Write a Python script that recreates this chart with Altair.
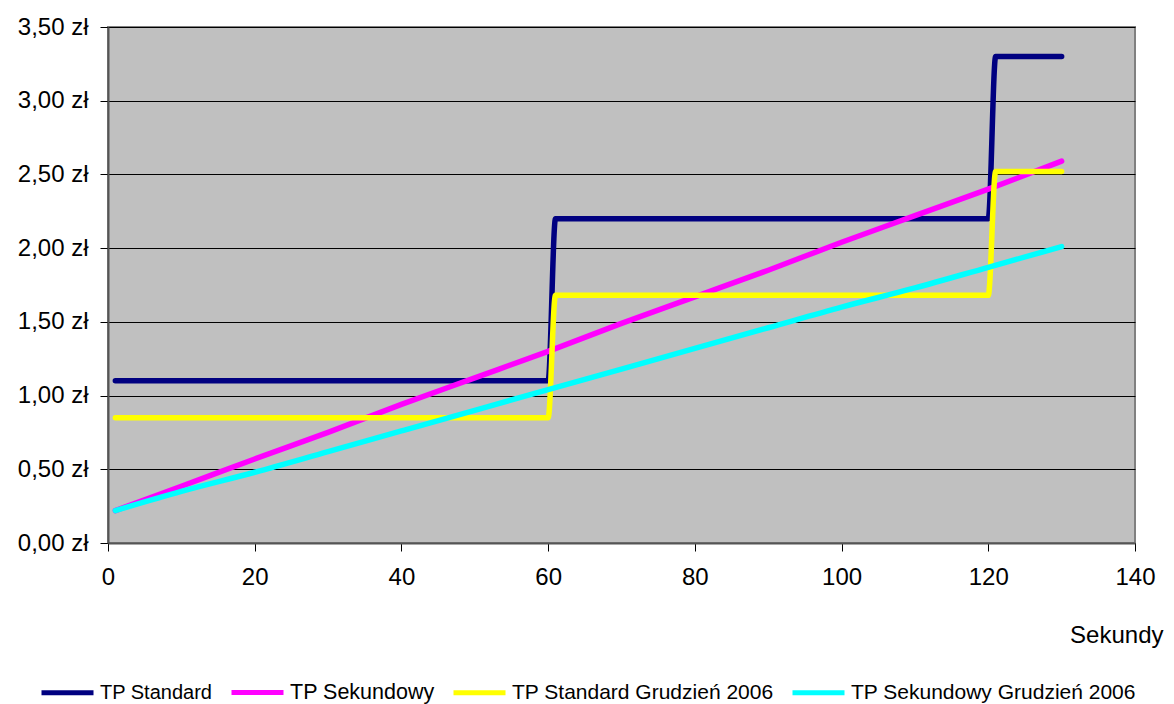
import altair as alt
import pandas as pd

series_names = ["TP Standard", "TP Sekundowy", "TP Standard Grudzień 2006", "TP Sekundowy Grudzień 2006"]
series_colors = ["#000080", "#FF00FF", "#FFFF00", "#00FFFF"]

std_x = [1, 60, 61, 120, 121, 130]
std_y = [1.10, 1.10, 2.20, 2.20, 3.30, 3.30]

sek_x = [1, 10, 20, 30, 40, 50, 60, 70, 80, 90, 100, 110, 120, 130]
sek_y = [0.22, 0.385, 0.57, 0.75, 0.94, 1.12, 1.30, 1.49, 1.67, 1.85, 2.04, 2.22, 2.40, 2.59]

std06_x = [1, 60, 61, 120, 121, 130]
std06_y = [0.85, 0.85, 1.68, 1.68, 2.52, 2.52]

sek06_x = [1, 10, 20, 30, 40, 50, 60, 70, 80, 90, 100, 110, 120, 130]
sek06_y = [0.22, 0.35, 0.48, 0.62, 0.76, 0.90, 1.04, 1.18, 1.32, 1.46, 1.60, 1.73, 1.87, 2.01]

rows = []
for name, xs, ys in zip(series_names,
                        [std_x, sek_x, std06_x, sek06_x],
                        [std_y, sek_y, std06_y, sek06_y]):
    for i, (a, b) in enumerate(zip(xs, ys)):
        rows.append({"seria": name, "s": a, "zl": b, "i": i})
df = pd.DataFrame(rows)

font = "Liberation Sans"

chart = alt.Chart(df).mark_line(
    strokeWidth=5.5, strokeCap="round", strokeJoin="round", interpolate="monotone"
).encode(
    x=alt.X("s:Q", scale=alt.Scale(domain=[0, 140], nice=False, zero=False),
            axis=alt.Axis(values=[0, 20, 40, 60, 80, 100, 120, 140], title="Sekundy",
                          grid=False, tickSize=8, labelPadding=14, labelFontSize=24,
                          labelFont=font, labelColor="#000", tickColor="#000",
                          domainColor="#555555", domainWidth=2, titleFont=font,
                          titleFontSize=24, titleFontWeight="normal", titleColor="#000",
                          titleAnchor="end", titleAlign="right", titleX=1055, titleY=99,
                          titleBaseline="alphabetic", labelFlush=False)),
    y=alt.Y("zl:Q", scale=alt.Scale(domain=[0, 3.5], nice=False),
            axis=alt.Axis(values=[0, 0.5, 1, 1.5, 2, 2.5, 3, 3.5], title=None,
                          labelExpr="replace(format(datum.value, '.2f'), '.', ',') + ' zł'",
                          grid=True, gridColor="#000", gridWidth=1, tickSize=8,
                          labelPadding=12, labelFontSize=24, labelFont=font,
                          labelColor="#000", tickColor="#000", domainColor="#555555",
                          domainWidth=2, labelFlush=False)),
    color=alt.Color("seria:N", sort=series_names,
                    scale=alt.Scale(domain=series_names, range=series_colors),
                    legend=alt.Legend(title=None, orient="none", direction="horizontal",
                                      legendX=-69, legendY=637, symbolType="stroke",
                                      symbolSize=2704, symbolStrokeWidth=5,
                                      labelFontSize=alt.ExprRef("datum.label == 'TP Sekundowy' ? 21.5 : (datum.label == 'TP Standard' ? 20 : 21)"),
                                      labelFont=font,
                                      labelColor="#000",
                                      labelLimit=400, labelOffset=4, columnPadding=8,
                                      padding=0, labelBaseline="middle")),
    detail="seria:N",
    order="i:Q",
).properties(
    width=1027, height=516,
    autosize=alt.AutoSizeParams(type="none"),
    padding={"left": 100, "top": 19, "right": 30, "bottom": 161},
).configure_view(
    fill="#C0C0C0", stroke="#808080", strokeWidth=2
)

chart.save("out.html", embed_options={"renderer": "svg", "actions": False})
